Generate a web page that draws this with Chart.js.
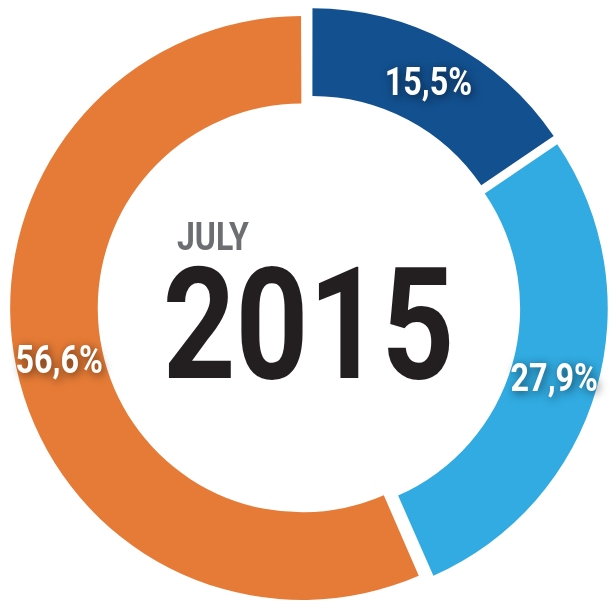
<!DOCTYPE html>
<html><head><meta charset="utf-8">
<script src="https://cdn.jsdelivr.net/npm/chart.js@4.4.0/dist/chart.umd.min.js"></script>
<style>html,body{margin:0;padding:0;background:#fff;overflow:hidden}canvas{display:block}</style>
</head><body>
<canvas id="c" width="609" height="602"></canvas>
<script>
const categories = ['Segment A', 'Segment B', 'Segment C'];
const shares = [15.5, 27.9, 56.6];
const shareLabels = ['15,5%', '27,9%', '56,6%'];
const sliceColors = ['#13508f', '#31abe1', '#e57b36'];
const centerMonth = 'JULY';
const centerYear = '2015';

// keep exploded slices the same size: cancel Chart.js radius growth for offset arcs
const explodePlugin = {
  id: 'explodeFix',
  beforeDatasetsDraw(chart) {
    const meta = chart.getDatasetMeta(0);
    const ctrl = meta.controller;
    meta.data.forEach(arc => {
      const off = (arc.options.offset || 0) / 4;
      const circ = arc.endAngle - arc.startAngle;
      const fix = 1 - Math.sin(Math.min(Math.PI, circ || 0));
      const grow = off * fix;
      arc.outerRadius = ctrl.outerRadius - grow;
      arc.innerRadius = ctrl.innerRadius - grow;
    });
  }
};

const textPlugin = {
  id: 'texts',
  afterDatasetsDraw(chart) {
    const ctx = chart.ctx;
    const meta = chart.getDatasetMeta(0);
    const ctrl = meta.controller;
    meta.data.forEach((arc, i) => {
      const off = (arc.options.offset || 0) / 4;
      const mid = (arc.startAngle + arc.endAngle) / 2;
      const r = (ctrl.outerRadius + ctrl.innerRadius) / 2;
      const x = arc.x + Math.cos(mid) * (r + off);
      const y = arc.y + Math.sin(mid) * (r + off);
      const size = 38;
      ctx.save();
      ctx.translate(x, y + size * 0.36);
      ctx.scale(0.85, 1);
      ctx.font = 'bold ' + size + 'px Roboto';
      ctx.textAlign = 'center';
      ctx.textBaseline = 'alphabetic';
      ctx.shadowColor = 'rgba(0,0,0,0.6)';
      ctx.shadowBlur = 10;
      ctx.shadowOffsetX = 2;
      ctx.shadowOffsetY = 2;
      ctx.fillStyle = '#ffffff';
      ctx.fillText(shareLabels[i], 0, 0);
      ctx.restore();
    });
    ctx.save();
    ctx.translate(177, 250);
    ctx.scale(0.82, 1);
    ctx.font = 'bold 39px Roboto';
    ctx.fillStyle = '#6d6e71';
    ctx.textAlign = 'left';
    ctx.textBaseline = 'alphabetic';
    ctx.fillText(centerMonth, 0, 0);
    ctx.restore();
    ctx.save();
    ctx.translate(308.5, 378);
    ctx.scale(0.82, 1);
    ctx.font = 'bold 155px Roboto';
    ctx.fillStyle = '#231f20';
    ctx.textAlign = 'center';
    ctx.textBaseline = 'alphabetic';
    ctx.fillText(centerYear, 0, 0);
    ctx.restore();
  }
};

new Chart(document.getElementById('c'), {
  type: 'doughnut',
  data: {
    labels: categories,
    datasets: [{
      data: shares,
      backgroundColor: sliceColors,
      borderWidth: 0,
      offset: 28,
      radius: 292,
      hoverOffset: 0
    }]
  },
  options: {
    responsive: false,
    animation: false,
    cutout: '70%',
    layout: { padding: { left: 9, top: 11, right: 0, bottom: 0 } },
    plugins: { legend: { display: false }, tooltip: { enabled: false } },
    events: []
  },
  plugins: [explodePlugin, textPlugin]
});
</script>
</body></html>
